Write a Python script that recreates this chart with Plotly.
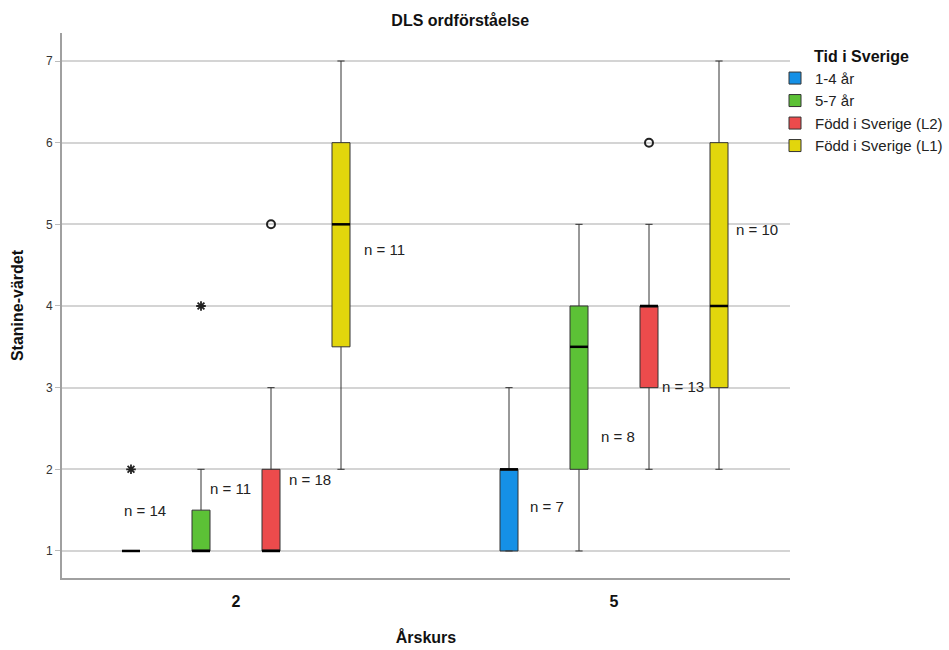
import plotly.graph_objects as go

# ---- data ----
groups = ["2", "5"]
series = ["1-4 år", "5-7 år", "Född i Sverige (L2)", "Född i Sverige (L1)"]
colors = ["#1590E6", "#5CC136", "#EC4B4C", "#E2D60C"]

q1 =     [[1, 1], [1, 2],   [1, 3], [3.5, 3]]
median = [[1, 2], [1, 3.5], [1, 4], [5, 4]]
q3 =     [[1, 2], [1.5, 4], [2, 4], [6, 6]]
lower =  [[1, 1], [1, 1],   [1, 2], [2, 2]]
upper =  [[1, 3], [2, 5],   [3, 5], [7, 7]]
n_vals = [[14, 7], [11, 8], [18, 13], [11, 10]]

# outliers: (series index, group index, value)
circle_outliers = [(2, 0, 5), (2, 1, 6)]
extreme_outliers = [(0, 0, 2), (1, 0, 4)]

# label placement (y in data units, x shift in pixels from box centre)
n_label_y = [[1.49, 1.54], [1.76, 2.40], [1.87, 3.02], [4.69, 4.94]]
n_label_dx = [[-9, 19], [7, 20], [16, 11], [21, 15]]

# ---- layout geometry ----
slot = 70 / 378
box_w = 18 / 378
font = "Arial, Liberation Sans, sans-serif"

def pos(si, gi):
    return gi + (si - 1.5) * slot

fig = go.Figure()
for si, name in enumerate(series):
    xs = [pos(si, gi) for gi in range(len(groups))]
    fig.add_trace(go.Box(
        name=name, x=xs, q1=q1[si], median=median[si], q3=q3[si],
        lowerfence=lower[si], upperfence=upper[si],
        fillcolor=colors[si], line=dict(color="#333333", width=1),
        width=box_w, whiskerwidth=0.4, boxpoints=False, hoverinfo="skip",
    ))

# thicker median lines
for si in range(len(series)):
    for gi in range(len(groups)):
        c = pos(si, gi)
        fig.add_trace(go.Scatter(
            x=[c - box_w / 2, c + box_w / 2], y=[median[si][gi]] * 2,
            mode="lines", line=dict(color="black", width=2.5),
            showlegend=False, hoverinfo="skip"))

fig.add_trace(go.Scatter(
    x=[pos(s, g) for s, g, v in circle_outliers],
    y=[v for s, g, v in circle_outliers],
    mode="markers", marker=dict(symbol="circle-open", size=8, color="#222",
                                line=dict(color="#222", width=2)),
    showlegend=False, hoverinfo="skip"))
fig.add_trace(go.Scatter(
    x=[pos(s, g) for s, g, v in extreme_outliers],
    y=[v for s, g, v in extreme_outliers],
    mode="markers", marker=dict(symbol="asterisk-open", size=8, color="#222",
                                line=dict(color="#222", width=1.8)),
    showlegend=False, hoverinfo="skip"))

for si in range(len(series)):
    for gi in range(len(groups)):
        fig.add_annotation(
            x=pos(si, gi), y=n_label_y[si][gi], text=f"n = {n_vals[si][gi]}",
            xanchor="left", yanchor="middle", xshift=n_label_dx[si][gi],
            showarrow=False, font=dict(family=font, size=15, color="#222"))

fig.update_layout(
    width=949, height=650,
    margin=dict(l=62, r=159, t=33, b=72, autoexpand=False),
    plot_bgcolor="white", paper_bgcolor="white",
    boxmode="overlay",
    font=dict(family=font, color="#222"),
    title=dict(text="<b>DLS ordförståelse</b>", x=0.485, xanchor="center",
               y=1 - 20 / 650, yanchor="middle",
               font=dict(family=font, size=16, color="#111")),
    xaxis=dict(range=[-0.4603, 1.4656], tickvals=[0, 1],
               ticktext=[f"<b>{g}</b>" for g in groups],
               tickfont=dict(size=16, color="#111"),
               ticks="outside", ticklen=8, tickcolor="rgba(0,0,0,0)",
               showgrid=False, zeroline=False, showline=True,
               linecolor="#a0a0a0", linewidth=2, automargin=False,
               title=dict(text="<b>Årskurs</b>", standoff=23,
                          font=dict(size=16, color="#111"))),
    yaxis=dict(range=[0.669, 7.343], tickvals=[1, 2, 3, 4, 5, 6, 7],
               tickfont=dict(size=12, color="#333"),
               ticks="outside", ticklen=5, tickcolor="#bbbbbb",
               showgrid=True, gridcolor="#d4d4d4", gridwidth=1.5,
               zeroline=False, showline=True, linecolor="#a0a0a0", linewidth=2,
               automargin=False,
               title=dict(text="<b>Stanine-värdet</b>", standoff=18,
                          font=dict(size=16, color="#111"))),
    legend=dict(xref="container", yref="container",
                x=775 / 949, xanchor="left", y=1 - 41 / 650, yanchor="top",
                bgcolor="rgba(0,0,0,0)",
                title=dict(text="<b>Tid i Sverige</b>", side="top center",
                           font=dict(size=16, color="#111")),
                font=dict(size=15, color="#222"),
                itemwidth=30, tracegroupgap=0),
)

fig.write_html("out.html")
